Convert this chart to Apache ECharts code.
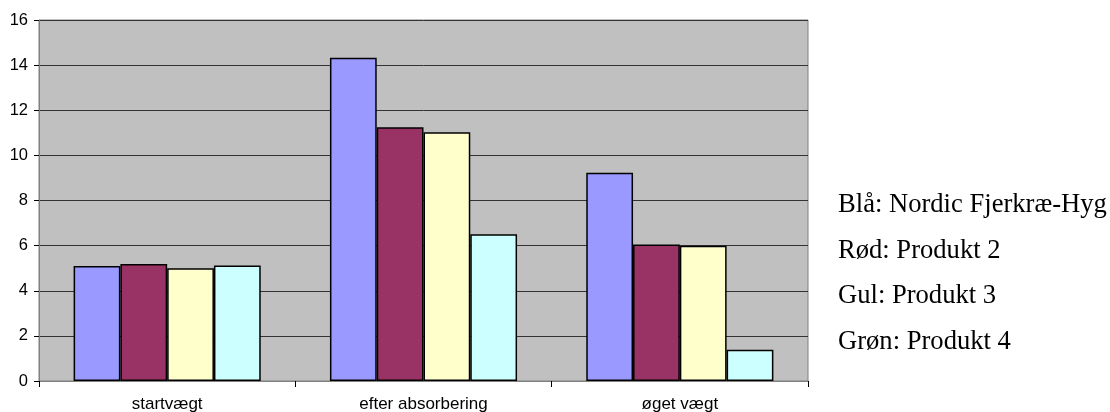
<!DOCTYPE html>
<html>
<head>
<meta charset="utf-8">
<script src="https://cdn.jsdelivr.net/npm/echarts@6/dist/echarts.min.js"></script>
<style>html,body{margin:0;padding:0;background:#fff;}#c{width:1110px;height:412px;}</style>
</head>
<body>
<div id="c"></div>
<script>
const categories = ['startvægt', 'efter absorbering', 'øget vægt'];
const seriesNames = ['Nordic Fjerkræ-Hyg', 'Produkt 2', 'Produkt 3', 'Produkt 4'];
const blaValues = [5.1, 14.33, 9.23];
const rodValues = [5.19, 11.25, 6.05];
const gulValues = [5.0, 11.03, 6.0];
const gronValues = [5.12, 6.5, 1.38];
const yTicks = [0, 2, 4, 6, 8, 10, 12, 14, 16];
const legendLines = ['Blå: Nordic Fjerkræ-Hyg', 'Rød: Produkt 2', 'Gul: Produkt 3', 'Grøn: Produkt 4'];

const colors = ['#9999FF', '#993366', '#FFFFCC', '#CCFFFF'];
const allValues = [blaValues, rodValues, gulValues, gronValues];

const chart = echarts.init(document.getElementById('c'));
const option = {
  animation: false,
  grid: {
    left: 39, right: 302, top: 20, bottom: 31,
    containLabel: false, outerBoundsMode: 'none',
    show: true, backgroundColor: '#C0C0C0', borderColor: '#808080', borderWidth: 1
  },
  xAxis: {
    type: 'category',
    data: categories,
    axisLine: { show: true, lineStyle: { color: '#808080', width: 1 } },
    axisTick: { show: true, alignWithLabel: false, length: 6, lineStyle: { color: '#000' } },
    axisLabel: { fontFamily: 'Liberation Sans, Arial', fontSize: 17, color: '#000', margin: 15 }
  },
  yAxis: {
    type: 'value',
    min: yTicks[0], max: yTicks[yTicks.length - 1], interval: 2,
    axisLine: { show: true, lineStyle: { color: '#808080', width: 1 } },
    axisTick: { show: true, length: 5, lineStyle: { color: '#000' } },
    splitLine: { show: true, lineStyle: { color: '#333', width: 1 } },
    axisLabel: { fontFamily: 'Liberation Sans, Arial', fontSize: 16.5, color: '#000', margin: 11 }
  },
  series: allValues.map((vals, i) => ({
    name: seriesNames[i],
    type: 'bar',
    data: vals,
    barGap: '0%',
    barCategoryGap: '27%',
    itemStyle: { color: colors[i], borderColor: '#000', borderWidth: 1.5 }
  })),
  graphic: legendLines.map((t, i) => ({
    type: 'text',
    left: 838,
    top: 192 + i * 45.4,
    style: { text: t, fontFamily: 'Liberation Serif, Times New Roman', fontSize: 26.6, fill: '#000' }
  }))
};
chart.setOption(option);
</script>
</body>
</html>
